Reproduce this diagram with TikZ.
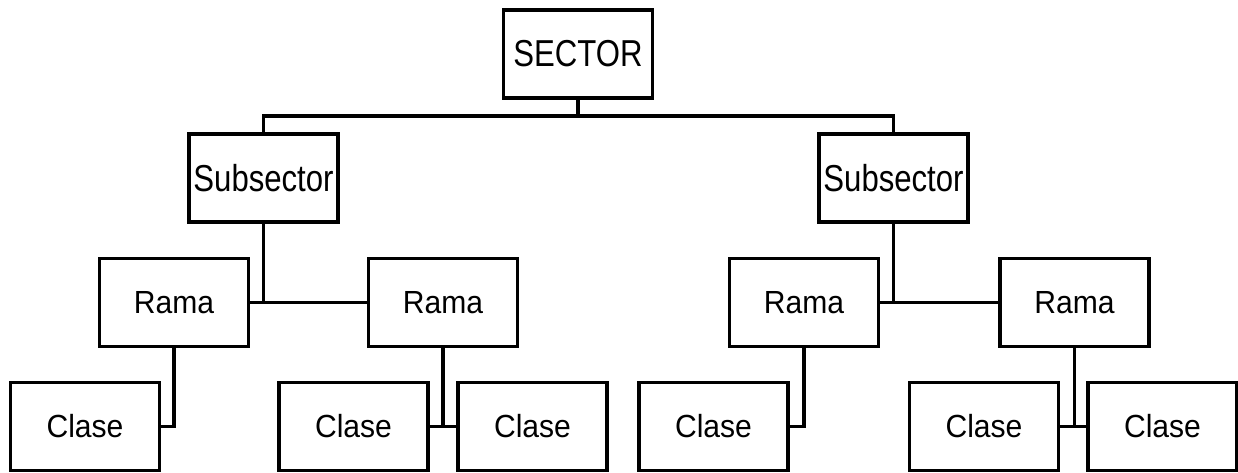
\documentclass[tikz,border=0pt]{standalone}
\usepackage{fontspec}
\setmainfont{Liberation Sans}
\newfontfamily\bigfont{Liberation Sans}[FakeStretch=0.83]
\newfontfamily\smallfont{Liberation Sans}[FakeStretch=0.94]
\begin{document}
\begin{tikzpicture}[x=1pt, y=-1pt, line width=3.3pt,
          box/.style={draw, minimum width=149pt, minimum height=88pt, inner sep=0pt},
          big/.style={box, font=\bigfont\fontsize{37.5}{40}\selectfont},
          small/.style={box, font=\smallfont\fontsize{32}{36}\selectfont},
          link/.style={line cap=rect}]
        \useasboundingbox (0,0) rectangle (1238,472);
        \node[big] (sector) at (578,54) {SECTOR};
        \node[big] (subL) at (263.5,178) {Subsector};
        \node[big] (subR) at (893.5,178) {Subsector};
        \node[small] (ramaLA) at (174,302.5) {Rama};
        \node[small] (ramaLB) at (443,302.5) {Rama};
        \node[small] (ramaRA) at (804,302.5) {Rama};
        \node[small] (ramaRB) at (1074.5,302.5) {Rama};
        \node[small] (claseA) at (85,426.5) {Clase};
        \node[small] (claseB) at (353.5,426.5) {Clase};
        \node[small] (claseC) at (532.5,426.5) {Clase};
        \node[small] (claseD) at (713.5,426.5) {Clase};
        \node[small] (claseE) at (984,426.5) {Clase};
        \node[small] (claseF) at (1162.5,426.5) {Clase};
        \coordinate (bus) at (578,116);
        \coordinate (jL) at (subL |- ramaLA);
        \coordinate (jR) at (subR |- ramaRA);
        \coordinate (kL) at (ramaLB |- claseB);
        \coordinate (kR) at (ramaRB |- claseE);
        \draw (sector) -- (bus);
        \draw (subL) |- (bus) -| (subR);
        \draw (subL) -- (jL);
        \draw (ramaLA) -- (ramaLB);
        \draw (subR) -- (jR);
        \draw (ramaRA) -- (ramaRB);
        \draw (ramaLA.south) |- (claseA.east);
        \draw (ramaLB) -- (kL);
        \draw (claseB) -- (claseC);
        \draw (ramaRA.south) |- (claseD.east);
        \draw (ramaRB) -- (kR);
        \draw (claseE) -- (claseF);
\end{tikzpicture}
\end{document}
